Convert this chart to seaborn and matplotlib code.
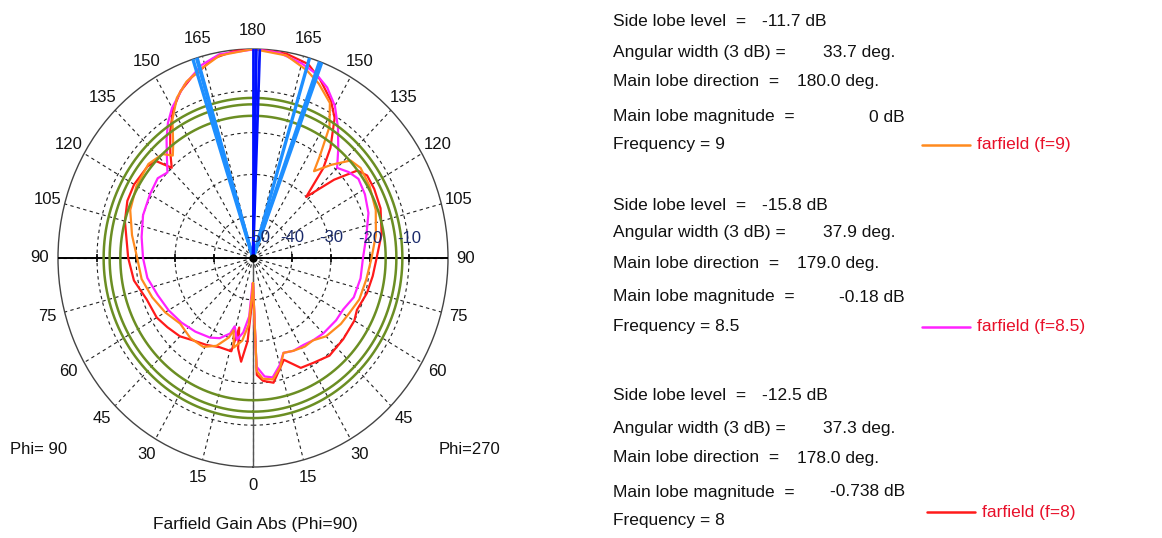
import numpy as np
import pandas as pd
import matplotlib
matplotlib.use('Agg')
import matplotlib.pyplot as plt
import seaborn as sns
from matplotlib.lines import Line2D

# ---- data (theta in plot degrees, 0 = bottom, right half first) ----
freqs = ['9', '8.5', '8']
main_mag = [0.0, -0.18, -0.738]
main_dir = [180.0, 179.0, 178.0]
ang_width = [33.7, 37.9, 37.3]
side_lobe = [-11.7, -15.8, -12.5]

theta_f8 = [0, 2, 5, 10, 18, 25, 32, 40, 50, 60, 65, 74, 82, 90, 100, 110, 118, 124, 128, 132,
            137, 140, 143, 148, 152, 158, 163, 170, 178, 185, 192, 196, 200, 205, 210, 215, 220, 224, 227, 231,
            240, 247, 255, 270, 280, 290, 300, 307, 315, 322, 330, 338, 346, 348, 350, 353, 356, 359, 360]
gain_f8 = [-44, -22, -20.5, -19.7, -24.4, -21, -20.5, -19.5, -19.8, -20, -20.6, -19.6, -19, -18.3, -16.5, -15.2, -14.8, -14.7, -16, -22,
           -30, -22, -17, -10.5, -7.4, -4, -1.5, -0.4, 0, -0.1, -1.2, -2.8, -4, -6, -9, -13, -17, -20, -16, -15.2,
           -14.8, -15, -16, -18, -19, -21, -21.5, -22.5, -23.5, -25, -26, -27, -27, -33, -28, -25, -30, -40, -44]

theta_f85 = [0, 2, 6, 10, 15, 19, 25, 32, 38, 45, 55, 62, 70, 80, 90, 100, 110, 118, 125, 130,
             135, 140, 145, 150, 155, 160, 165, 172, 179, 190, 196, 198, 203, 210, 214, 218, 222, 227, 232, 240,
             250, 260, 270, 280, 290, 300, 310, 320, 330, 336, 342, 344, 348, 352, 356, 359, 360]
gain_f85 = [-44, -24, -21.5, -21, -23.5, -26, -25.5, -25.5, -25, -24.5, -24, -23.8, -22.5, -22, -21.8, -20.5, -18.5, -17.5, -17, -18,
            -19.5, -16, -12, -8, -5, -3, -1.8, -0.5, 0, -0.5, -2, -3, -5, -8.5, -11, -14, -17, -20, -19, -19.5,
            -20, -21, -21.8, -22.5, -24, -25, -26, -27, -28, -29, -31, -33, -30, -32, -36, -44, -44]

theta_f9 = [0, 2, 5, 10, 15, 19, 25, 32, 38, 45, 55, 62, 70, 80, 90, 100, 110, 120, 128, 133,
            138, 143, 145, 148, 152, 158, 163, 170, 180, 190, 197, 202, 207, 212, 217, 220, 223, 230, 240, 250,
            260, 270, 280, 290, 300, 310, 320, 329, 336, 342, 344, 347, 352, 356, 359, 360]
gain_f9 = [-44, -23, -21, -20.5, -23, -26, -25.5, -25, -25, -23.5, -22.5, -22, -21, -20.5, -19.6, -18, -16.5, -15.5, -15, -15.8,
           -20, -24, -20, -13, -8, -5, -3, -0.8, 0, -0.8, -3, -4.5, -7, -11, -16, -18, -16, -15, -15.5, -16.5,
           -18.5, -20.3, -21, -22.5, -24, -25.6, -25, -25.2, -27, -30, -32, -28, -30, -34, -42, -44]

curve_colors = {'8': '#ff1a1a', '8.5': '#ff22ff', '9': '#ff8a1e'}

frames = []
for f, th, g in [('8', theta_f8, gain_f8), ('8.5', theta_f85, gain_f85), ('9', theta_f9, gain_f9)]:
    frames.append(pd.DataFrame({'theta': np.deg2rad(th), 'gain': g, 'freq': f}))
df = pd.concat(frames, ignore_index=True)

W, H = 1162, 538
sns.set_theme(style='white')
plt.rcParams['font.family'] = ['Liberation Sans', 'DejaVu Sans']

fig = plt.figure(figsize=(W / 100, H / 100), dpi=100)
ax = fig.add_axes([58 / W, 71 / H, 390 / W, 418 / H], projection='polar')
ax.set_aspect('auto')
ax.set_theta_zero_location('S')
ax.set_theta_direction(1)
ax.set_rlim(-50, 0)

angles = list(range(0, 360, 15))
ax.set_thetagrids(angles, [str(a if a <= 180 else 360 - a) for a in angles], fontsize=12, color='#111111')
ax.xaxis.set_tick_params(pad=0)
ax.set_rgrids([-40, -30, -20, -10], labels=['', '', '', ''])
ax.grid(True, color='#222222', linestyle=(0, (3, 3)), linewidth=0.8)
ax.spines['polar'].set_color('#444444')
ax.spines['polar'].set_linewidth(1.0)

# axis cross
ax.plot([np.pi / 2, np.pi / 2], [-50, 0], color='black', lw=1.4, zorder=3)
ax.plot([3 * np.pi / 2, 3 * np.pi / 2], [-50, 0], color='black', lw=1.4, zorder=3)
ax.plot([0, 0], [-50, 0], color='#555555', lw=1.0, zorder=3)
for r in [-40, -30, -20, -10]:
    for t in [np.pi / 2, 3 * np.pi / 2]:
        ax.plot([t], [r], marker='|', color='black', ms=6, mew=1.2, zorder=3)

sns.lineplot(data=df, x='theta', y='gain', hue='freq', palette=curve_colors, sort=False,
             estimator=None, lw=1.6, ax=ax, legend=False, zorder=4)

# side lobe level circles
circ = np.deg2rad(np.arange(0, 361, 2))
for m, s in zip(main_mag, side_lobe):
    ax.plot(circ, np.full_like(circ, m + s), color='#6b8e23', lw=1.8, zorder=5)

# 3 dB beam width lines and main lobe direction
for d, w in zip(main_dir, ang_width):
    for a in [d - w / 2, d + w / 2]:
        ax.plot([np.deg2rad(a)] * 2, [-50, 0], color='#1e8fff', lw=2.4, zorder=6)
for d in main_dir:
    ax.plot([np.deg2rad(d)] * 2, [-50, 0], color='#0010ff', lw=2.0, zorder=7)
ax.plot([0], [-50], marker='o', color='black', ms=5, zorder=8)

for r in [-50, -40, -30, -20, -10]:
    ax.annotate(str(r), xy=(np.pi / 2, r), xytext=(4 if r == -50 else 0, 9), textcoords='offset points',
                ha='center', va='bottom', fontsize=12, color='#1a2a6a', zorder=9)
ax.set_xlabel('')
ax.set_ylabel('')


def px(x, y):
    return x / W, 1 - y / H


fs = 12.5
fig.text(*px(255, 525), 'Farfield Gain Abs (Phi=90)', ha='center', va='center', fontsize=12.5, color='#111111')
fig.text(*px(10, 450), 'Phi= 90', ha='left', va='center', fontsize=12, color='#111111')
fig.text(*px(500, 450), 'Phi=270', ha='right', va='center', fontsize=12, color='#111111')

rows_y = [[22, 52, 82, 117, 145], [205, 233, 263, 297, 327], [396, 428, 458, 492, 521]]
legend_y = [145, 327, 512]
for i in range(3):
    y = rows_y[i]
    fig.text(*px(613, y[0]), 'Side lobe level  =', va='center', fontsize=fs, color='#111111')
    fig.text(*px(762, y[0]), f'{side_lobe[i]} dB', va='center', fontsize=fs, color='#111111')
    fig.text(*px(613, y[1]), 'Angular width (3 dB) =', va='center', fontsize=fs, color='#111111')
    fig.text(*px(823, y[1]), f'{ang_width[i]} deg.', va='center', fontsize=fs, color='#111111')
    fig.text(*px(613, y[2]), 'Main lobe direction  =', va='center', fontsize=fs, color='#111111')
    fig.text(*px(797, y[2]), f'{main_dir[i]:.1f} deg.', va='center', fontsize=fs, color='#111111')
    fig.text(*px(613, y[3]), 'Main lobe magnitude  =', va='center', fontsize=fs, color='#111111')
    mag = '0' if main_mag[i] == 0 else f'{main_mag[i]:g}'
    fig.text(*px(905, y[3]), f'{mag} dB', va='center', ha='right', fontsize=fs, color='#111111')
    fig.text(*px(613, y[4]), f'Frequency = {freqs[i]}', va='center', fontsize=fs, color='#111111')
    ly = legend_y[i]
    x0 = 922 if i < 2 else 927
    fig.add_artist(Line2D([x0 / W, (x0 + 48) / W], [1 - ly / H] * 2, color=curve_colors[freqs[i]], lw=1.8))
    fig.text(*px(x0 + 55, ly), f'farfield (f={freqs[i]})', va='center', fontsize=fs, color='#e8102a')

fig.savefig('out.png', dpi=100)
